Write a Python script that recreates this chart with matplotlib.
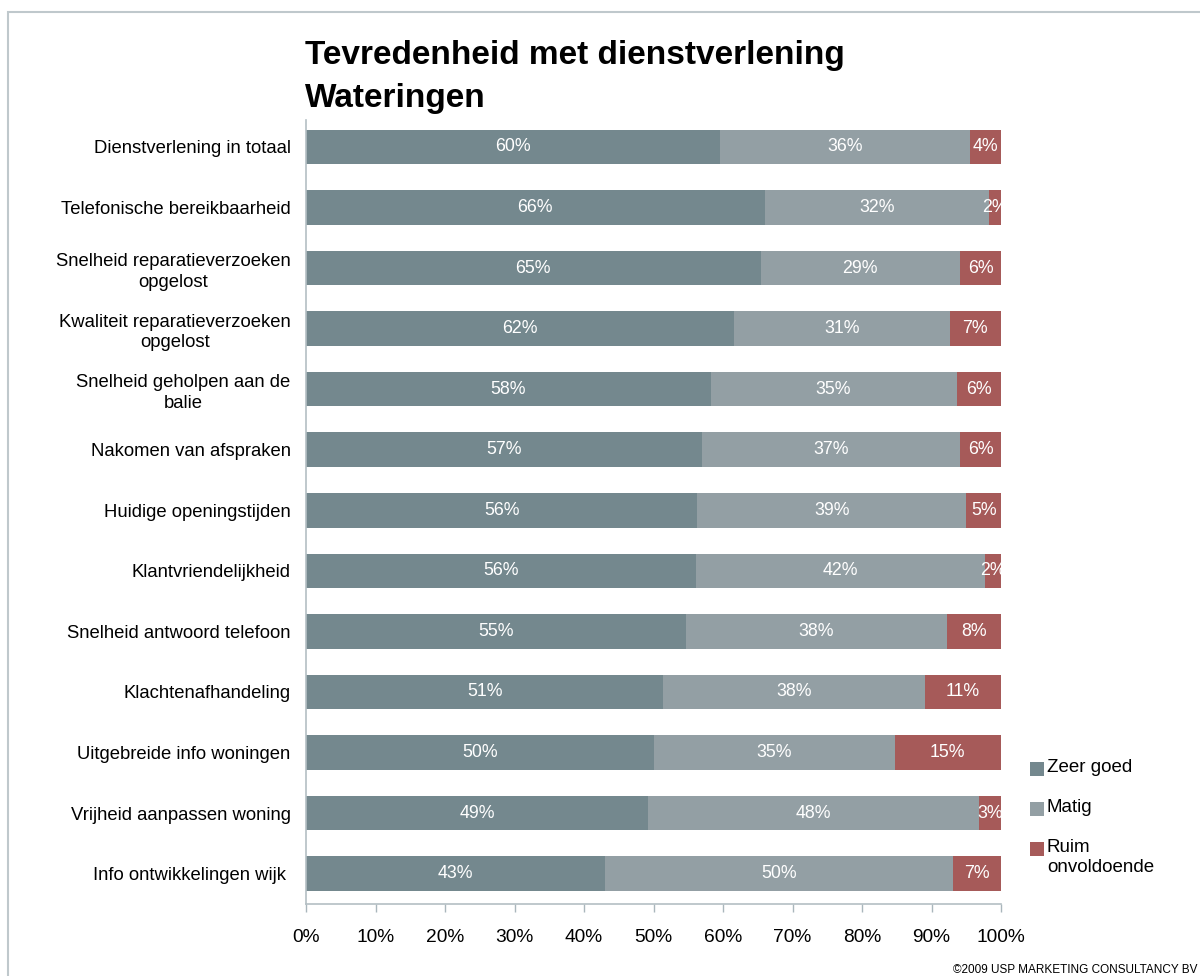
import matplotlib
matplotlib.use("Agg")
import matplotlib.pyplot as plt
from matplotlib.patches import Rectangle

plt.rcParams['font.family'] = ['Liberation Sans', 'DejaVu Sans']

categories = [
    "Dienstverlening in totaal",
    "Telefonische bereikbaarheid",
    "Snelheid reparatieverzoeken\nopgelost",
    "Kwaliteit reparatieverzoeken\nopgelost",
    "Snelheid geholpen aan de\nbalie",
    "Nakomen van afspraken",
    "Huidige openingstijden",
    "Klantvriendelijkheid",
    "Snelheid antwoord telefoon",
    "Klachtenafhandeling",
    "Uitgebreide info woningen",
    "Vrijheid aanpassen woning",
    "Info ontwikkelingen wijk ",
]

zeer_goed = [59.6, 66.0, 65.4, 61.6, 58.2, 57.0, 56.3, 56.1, 54.7, 51.4, 50.1, 49.2, 43.0]
matig = [36.0, 32.3, 28.7, 31.0, 35.4, 37.1, 38.7, 41.6, 37.5, 37.6, 34.6, 47.6, 50.1]
ruim_onvoldoende = [4.4, 1.7, 5.9, 7.4, 6.4, 5.9, 5.0, 2.3, 7.8, 11.0, 15.3, 3.2, 6.9]

series = [
    ("Zeer goed", zeer_goed, "#74888E"),
    ("Matig", matig, "#939FA4"),
    ("Ruim\nonvoldoende", ruim_onvoldoende, "#A65A59"),
]

xtick_labels = ["0%", "10%", "20%", "30%", "40%", "50%", "60%", "70%", "80%", "90%", "100%"]

fig = plt.figure(figsize=(12, 9.76), dpi=100)
ax = fig.add_axes([0.255, 0.0738, 0.5792, 0.803])

y = list(range(len(categories)))
left = [0.0] * len(categories)
for name, vals, color in series:
    fracs = [v / 100 for v in vals]
    ax.barh(y, fracs, left=left, height=0.57, color=color, edgecolor='none')
    for yi, l, f, v in zip(y, left, fracs, vals):
        ax.text(l + f / 2, yi, f"{v:.0f}%", ha='center', va='center',
                color='white', fontsize=12.8, clip_on=True)
    left = [a + b for a, b in zip(left, fracs)]

ax.set_xlim(0, 1)
ax.set_ylim(len(categories) - 0.5, -0.44)
ax.set_yticks(y)
ax.set_yticklabels(categories, fontsize=13.3, multialignment='center',
                   linespacing=1.3)
ax.tick_params(axis='y', length=0, pad=11)
ax.set_xticks([i / 10 for i in range(11)])
ax.set_xticklabels(xtick_labels, fontsize=13.8)
ax.tick_params(axis='x', length=6, width=1, color='#A9B6BC', pad=12)

for side in ('top', 'right'):
    ax.spines[side].set_visible(False)
for side in ('left', 'bottom'):
    ax.spines[side].set_color('#B4BFC4')
    ax.spines[side].set_linewidth(1.2)

fig.text(0.254, 0.9435, "Tevredenheid met dienstverlening", fontsize=24,
         fontweight='bold', ha='left', va='center')
fig.text(0.254, 0.8995, "Wateringen", fontsize=24,
         fontweight='bold', ha='left', va='center')

# legend drawn as squares with text beside them
legend_y = [770, 810, 850]
for (name, vals, color), ly in zip(series, legend_y):
    fig.patches.append(Rectangle((1030 / 1200, 1 - (ly + 6) / 976), 14 / 1200, 14 / 976,
                                 transform=fig.transFigure, facecolor=color,
                                 edgecolor='none'))
    fig.text(1047 / 1200, 1 - (ly - 11) / 976, name, fontsize=13.5, ha='left',
             va='top', linespacing=1.25)

# frame around the chart
fig.patches.append(Rectangle((8 / 1200, -0.05), 1.1, 1 - 12 / 976 + 0.05,
                             transform=fig.transFigure, facecolor='none',
                             edgecolor='#BFC8CC', linewidth=1.5))

fig.text(953 / 1200, 1 - 970 / 976, "\u00a92009 USP MARKETING CONSULTANCY BV", fontsize=8.5,
         ha='left', va='center')

fig.savefig("out.png", dpi=100)
